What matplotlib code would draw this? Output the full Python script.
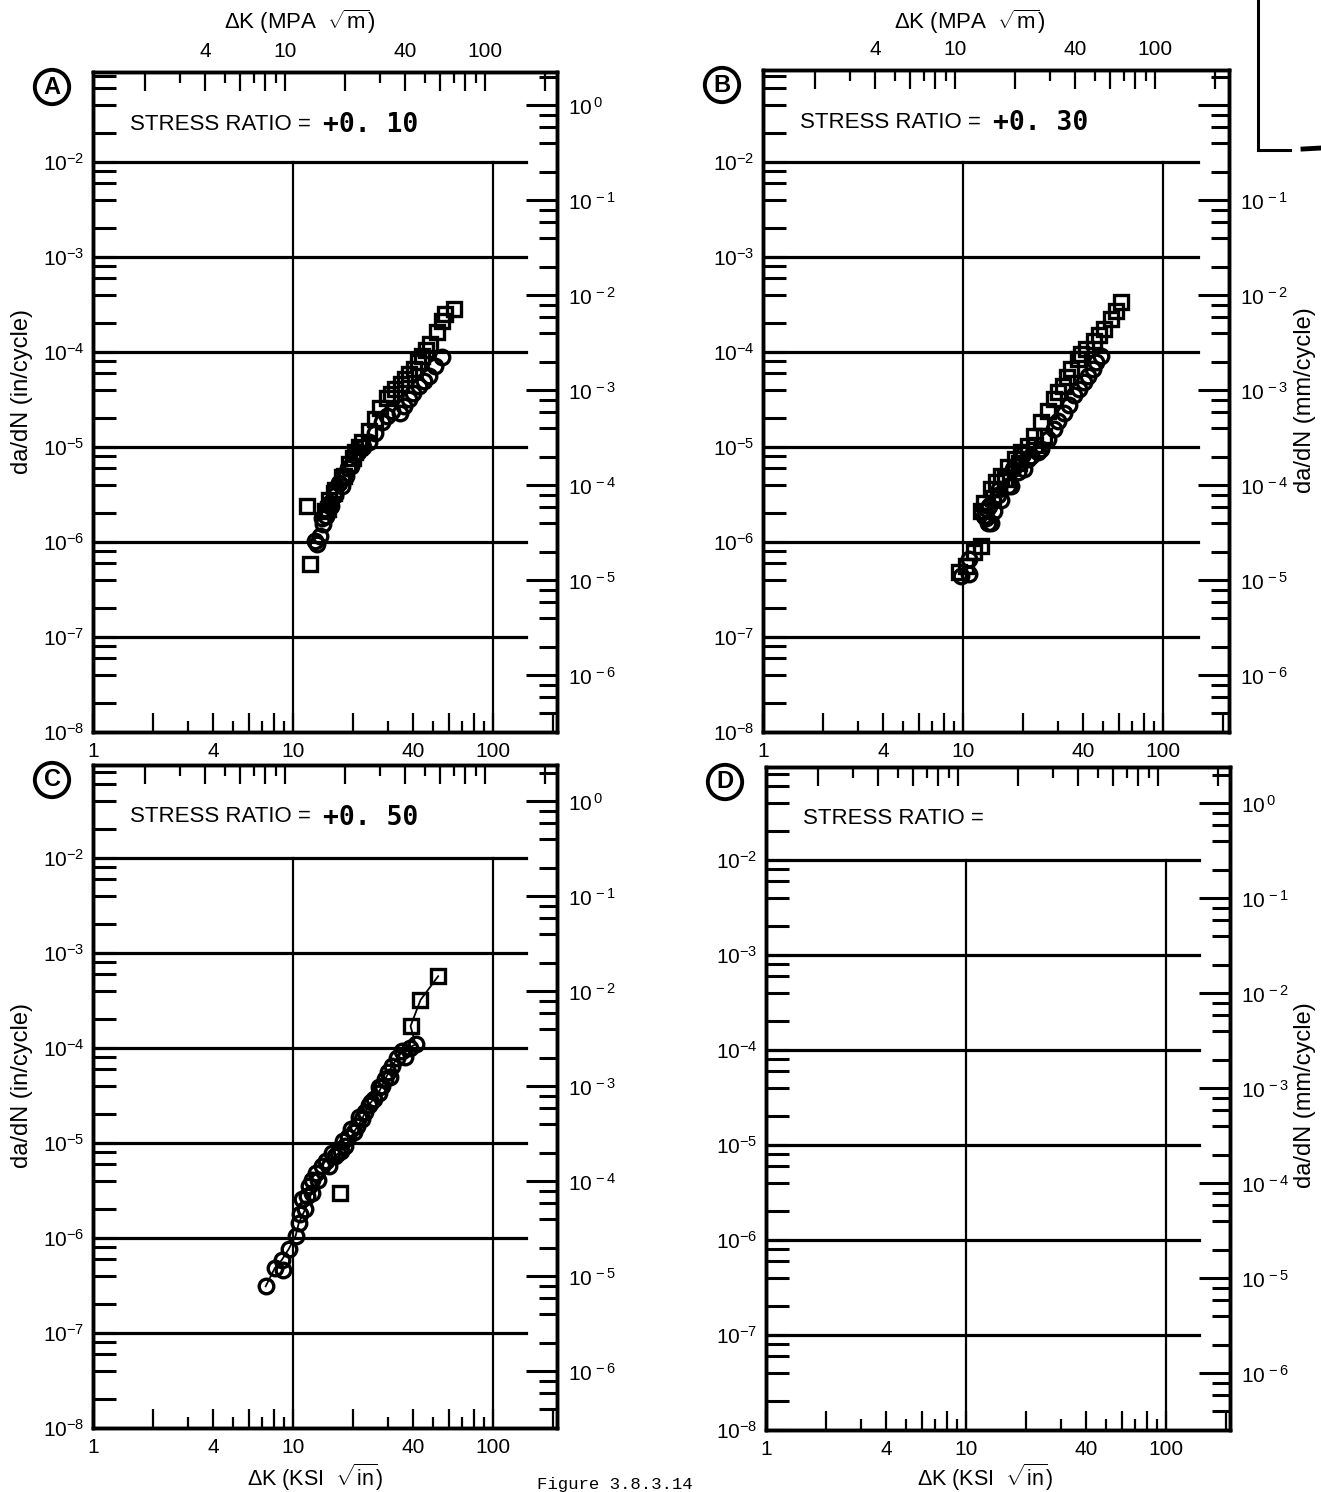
import numpy as np
import matplotlib
matplotlib.use("Agg")
import matplotlib.pyplot as plt
from matplotlib.ticker import FixedLocator, FuncFormatter, NullFormatter
from matplotlib.lines import Line2D

plt.rcParams['font.family'] = ['Liberation Sans', 'DejaVu Sans']
plt.rcParams['mathtext.fontset'] = 'custom'
plt.rcParams['mathtext.rm'] = 'Liberation Sans'
plt.rcParams['mathtext.it'] = 'Liberation Sans:italic'
plt.rcParams['mathtext.bf'] = 'Liberation Sans:bold'

# ---------------- data ----------------
panel_letters = ['A', 'B', 'C', 'D']
stress_ratio_values = ['+0. 10', '+0. 30', '+0. 50', '']

# Panel A (R = +0.10)  dK in ksi*sqrt(in), da/dN in in/cycle
a_sq_dk = [63.8, 57.5, 55.7, 52.6, 48.6, 46.0, 44.3, 42.0, 40.2, 38.0, 36.5, 34.5, 32.5, 31.0,
           29.5, 27.3, 25.8, 23.9, 22.1, 20.5, 19.0, 17.5, 16.3, 15.1, 14.5, 11.7, 12.2,
           21.5, 20.0, 17.9, 16.0, 14.9]
a_sq_da = [2.84e-4, 2.5e-4, 2.14e-4, 1.61e-4, 1.21e-4, 1.05e-4, 9.1e-5, 7.8e-5, 6.6e-5, 5.9e-5,
           5.2e-5, 4.6e-5, 4.1e-5, 3.6e-5, 3.3e-5, 2.6e-5, 1.97e-5, 1.48e-5, 1.12e-5, 8.8e-6,
           6.6e-6, 4.8e-6, 3.5e-6, 2.8e-6, 2.1e-6, 2.4e-6, 5.9e-7,
           1.0e-5, 7.6e-6, 5.0e-6, 3.3e-6, 2.2e-6]
a_ci_dk = [55.7, 51.5, 47.8, 45.0, 42.6, 40.0, 37.9, 36.0, 34.4, 31.3, 29.5, 27.9, 25.8, 23.9,
           22.5, 21.1, 19.5, 18.5, 17.6, 16.3, 15.5, 14.7, 14.2, 13.6, 12.9, 13.2,
           18.8, 17.0, 15.3, 14.0]
a_ci_da = [8.8e-5, 7.2e-5, 5.6e-5, 5.0e-5, 4.4e-5, 3.7e-5, 3.2e-5, 2.7e-5, 2.3e-5, 2.4e-5,
           2.1e-5, 1.82e-5, 1.4e-5, 1.12e-5, 1.0e-5, 8.8e-6, 6.3e-6, 5.0e-6, 3.9e-6, 3.1e-6,
           2.4e-6, 1.9e-6, 1.55e-6, 1.15e-6, 1.03e-6, 0.95e-6,
           6.0e-6, 4.2e-6, 2.6e-6, 1.8e-6]

# Panel B (R = +0.30)
b_sq_dk = [61.7, 58.0, 55.0, 50.9, 48.0, 45.4, 41.2, 39.0, 37.4, 34.7, 33.0, 31.5, 30.0, 28.6,
           26.5, 24.5, 22.7, 21.1, 19.5, 18.1, 16.8, 15.5, 14.6, 13.8, 12.8, 12.3, 12.3, 11.4,
           10.4, 9.6, 25.5, 23.0, 19.0, 16.2, 14.2]
b_sq_da = [3.33e-4, 2.7e-4, 2.22e-4, 1.75e-4, 1.5e-4, 1.32e-4, 1.08e-4, 9.5e-5, 8.4e-5, 6.6e-5,
           5.4e-5, 4.4e-5, 3.8e-5, 3.2e-5, 2.4e-5, 1.82e-5, 1.32e-5, 1.03e-5, 8.8e-6, 7.5e-6,
           6.2e-6, 5.0e-6, 4.3e-6, 3.6e-6, 2.6e-6, 2.1e-6, 9.1e-7, 7.8e-7, 5.6e-7, 4.8e-7,
           1.3e-5, 1.05e-5, 6.8e-6, 4.6e-6, 2.9e-6]
b_ci_dk = [49.0, 46.5, 44.5, 42.0, 40.4, 38.0, 36.0, 34.0, 32.1, 30.0, 28.6, 26.5, 24.5, 23.6,
           22.0, 21.1, 20.3, 18.8, 17.4, 16.7, 15.5, 14.9, 14.3, 13.5, 13.8, 12.8, 13.3, 10.7,
           10.7, 9.8, 20.0, 17.8, 15.2, 13.2, 13.0]
b_ci_da = [9.1e-5, 7.8e-5, 6.6e-5, 5.6e-5, 4.8e-5, 4.1e-5, 3.5e-5, 2.8e-5, 2.3e-5, 1.9e-5,
           1.55e-5, 1.2e-5, 9.5e-6, 8.8e-6, 8.0e-6, 7.5e-6, 5.9e-6, 5.4e-6, 3.9e-6, 3.9e-6,
           2.8e-6, 3.1e-6, 2.1e-6, 2.4e-6, 1.6e-6, 1.9e-6, 1.6e-6, 6.6e-7, 4.6e-7, 4.4e-7,
           8.5e-6, 5.8e-6, 3.6e-6, 2.2e-6, 1.8e-6]

# Panel C (R = +0.50)
c_sq_dk = [53.2, 43.4, 38.7, 17.2]
c_sq_da = [5.7e-4, 3.2e-4, 1.7e-4, 3.0e-6]
c_ci_dk = [41.0, 38.5, 35.1, 33.0, 31.3, 30.0, 28.9, 27.8, 26.8, 25.3, 23.9, 23.0, 22.1, 21.0,
           20.1, 18.9, 18.3, 17.3, 16.8, 16.3, 15.6, 15.1, 13.9, 13.4, 12.4, 12.4, 11.1, 11.5,
           10.7, 10.3, 9.5, 8.8, 8.95, 8.1, 7.3,
           36.5, 30.5, 27.0, 24.5, 21.5, 19.5, 17.8, 14.6, 13.0, 12.0, 11.8, 10.9]
c_ci_da = [1.09e-4, 1.0e-4, 9.3e-5, 7.8e-5, 6.5e-5, 5.6e-5, 4.7e-5, 4.0e-5, 3.4e-5, 2.9e-5,
           2.5e-5, 2.1e-5, 1.78e-5, 1.5e-5, 1.29e-5, 1.17e-5, 9.3e-6, 8.3e-6, 7.9e-6, 7.3e-6,
           7.9e-6, 5.7e-6, 5.7e-6, 4.1e-6, 4.1e-6, 3.0e-6, 2.6e-6, 2.0e-6, 1.45e-6, 1.05e-6,
           7.6e-7, 5.9e-7, 4.6e-7, 4.8e-7, 3.1e-7,
           8.0e-5, 5.0e-5, 3.9e-5, 2.7e-5, 1.9e-5, 1.4e-5, 1.05e-5, 6.5e-6, 4.8e-6, 3.5e-6,
           2.8e-6, 1.8e-6]
c_line_dk = [53.2, 43.4, 38.7, 41.0, 35.1, 31.3, 28.9, 26.8, 23.9, 22.1, 20.1, 18.3, 16.3,
             15.1, 13.4, 12.4, 11.5, 10.7, 10.3, 9.5, 8.8, 8.1, 7.3]
c_line_da = [5.7e-4, 3.2e-4, 1.7e-4, 1.09e-4, 9.3e-5, 6.5e-5, 4.7e-5, 3.4e-5, 2.5e-5, 1.78e-5,
             1.29e-5, 9.3e-6, 7.3e-6, 5.7e-6, 4.1e-6, 3.0e-6, 2.0e-6, 1.45e-6, 1.05e-6,
             7.6e-7, 5.9e-7, 4.8e-7, 3.1e-7]

panel_squares = [(a_sq_dk, a_sq_da), (b_sq_dk, b_sq_da), (c_sq_dk, c_sq_da), ([], [])]
panel_circles = [(a_ci_dk, a_ci_da), (b_ci_dk, b_ci_da), (c_ci_dk, c_ci_da), ([], [])]

# tick values
ksi_long = [1, 2, 4, 6, 8, 10, 20, 40, 60, 80, 100, 200]
ksi_short = [3, 5, 7, 9, 30, 50, 70, 90]
ksi_labels = [1, 4, 10, 40, 100]
mpa_long = [2, 4, 6, 8, 10, 20, 40, 60, 80, 100, 200]
mpa_short = [3, 5, 7, 9, 30, 50, 70, 90]
mpa_labels = [4, 10, 40, 100]
in_decades = [1e-8, 1e-7, 1e-6, 1e-5, 1e-4, 1e-3, 1e-2, 1e-1]
in_minor = [m * d for d in in_decades for m in (2, 4, 6, 8)]
mm_decades = [1e-7, 1e-6, 1e-5, 1e-4, 1e-3, 1e-2, 1e-1, 1e0, 1e1]
mm_minor = [m * d for d in mm_decades for m in (2, 4, 6, 8)]
grid_h = [1e-2, 1e-3, 1e-4, 1e-5, 1e-6, 1e-7]
grid_v = [10, 100]

KSI2MPA = 1.0988
IN2MM = 25.4

# ---------------- figure ----------------
W, H = 1321, 1492
fig = plt.figure(figsize=(W / 100, H / 100), dpi=100)
fig.patch.set_facecolor('white')

PX = 0.72  # points per pixel at 100 dpi
XDEC = 200.0
YDEC = 95.0

# left, right, top, bottom (pixels)
boxes = [(93, 557, 72, 732), (763, 1229, 70, 732), (93, 557, 765, 1428), (766, 1230, 767, 1430)]


def fx(x):
    return x / W


def fy(y):
    return 1 - y / H


def sup_fmt(v, p):
    e = int(round(np.log10(v)))
    return r'$10^{%d}$' % e


axes = []
for i, (l, r, t, b) in enumerate(boxes):
    ax = fig.add_axes([fx(l), fy(b), (r - l) / W, (b - t) / H])
    ax.set_xscale('log')
    ax.set_yscale('log')
    xmax = 10 ** ((r - l) / XDEC)
    ymax = 10 ** (-8 + (b - t) / YDEC)
    ax.set_xlim(1, xmax)
    ax.set_ylim(1e-8, ymax)
    for s in ax.spines.values():
        s.set_linewidth(2.4)

    # bottom axis (ksi)
    ax.xaxis.set_major_locator(FixedLocator(ksi_long))
    ax.xaxis.set_minor_locator(FixedLocator(ksi_short))
    ax.xaxis.set_major_formatter(FuncFormatter(
        lambda v, p: ('%d' % round(v)) if round(v) in ksi_labels else ''))
    ax.xaxis.set_minor_formatter(NullFormatter())
    ax.tick_params(axis='x', which='major', direction='in', length=19 * PX, width=1.6,
                   labelsize=15, pad=7, top=False)
    ax.tick_params(axis='x', which='minor', direction='in', length=11 * PX, width=1.6, top=False)

    # left axis (in/cycle)
    ax.yaxis.set_major_locator(FixedLocator(in_decades))
    ax.yaxis.set_minor_locator(FixedLocator(in_minor))
    ax.yaxis.set_major_formatter(FuncFormatter(
        lambda v, p: sup_fmt(v, p) if v <= 1.5e-2 else ''))
    ax.yaxis.set_minor_formatter(NullFormatter())
    ax.tick_params(axis='y', which='major', direction='in', length=23 * PX, width=2.2,
                   labelsize=15, pad=6, right=False)
    ax.tick_params(axis='y', which='minor', direction='in', length=23 * PX, width=2.2, right=False)

    # grid lines
    gx = 1 - 31.0 / (r - l)
    for g in grid_h:
        ax.axhline(g, xmin=0, xmax=gx, color='black', lw=2.3, zorder=1)
    yf = (np.log10(1e-2) - (-8)) / (np.log10(ymax) - (-8))
    for g in grid_v:
        ax.axvline(g, ymin=0, ymax=yf, color='black', lw=1.6, zorder=1)

    # top axis (MPa sqrt m)
    axt = ax.twiny()
    axt.set_xscale('log')
    axt.set_xlim(1 * KSI2MPA, xmax * KSI2MPA)
    axt.xaxis.set_major_locator(FixedLocator(mpa_long))
    axt.xaxis.set_minor_locator(FixedLocator(mpa_short))
    show_top = i < 2
    axt.xaxis.set_major_formatter(FuncFormatter(
        lambda v, p, s=show_top: ('%d' % round(v)) if (s and round(v) in mpa_labels) else ''))
    axt.xaxis.set_minor_formatter(NullFormatter())
    axt.tick_params(axis='x', which='major', direction='in', length=19 * PX, width=1.6,
                    labelsize=15, pad=8)
    axt.tick_params(axis='x', which='minor', direction='in', length=11 * PX, width=1.6)
    axt.yaxis.set_visible(False)
    for s in axt.spines.values():
        s.set_linewidth(2.4)

    # right axis (mm/cycle)
    axr = ax.twinx()
    axr.set_yscale('log')
    axr.set_ylim(1e-8 * IN2MM, ymax * IN2MM)
    axr.yaxis.set_major_locator(FixedLocator(mm_decades))
    axr.yaxis.set_minor_locator(FixedLocator(mm_minor))
    skip_top = (i == 1)
    axr.yaxis.set_major_formatter(FuncFormatter(
        lambda v, p, s=skip_top: '' if (s and v > 0.5) else r'$10^{\,%d}$' % int(round(np.log10(v)))))
    axr.yaxis.set_minor_formatter(NullFormatter())
    axr.tick_params(axis='y', which='major', direction='in', length=31 * PX, width=2.2,
                    labelsize=15, pad=8)
    axr.tick_params(axis='y', which='minor', direction='in', length=18 * PX, width=2.2)
    axr.xaxis.set_visible(False)
    for s in axr.spines.values():
        s.set_linewidth(2.4)

    # data
    sqx, sqy = panel_squares[i]
    cix, ciy = panel_circles[i]
    if i == 2:
        ax.plot(c_line_dk, c_line_da, color='black', lw=1.3, zorder=2)
    if len(cix):
        ax.plot(cix, ciy, linestyle='none', marker='o', markersize=10.5, mfc='none',
                mec='black', mew=2.4, zorder=3)
    if len(sqx):
        ax.plot(sqx, sqy, linestyle='none', marker='s', markersize=10, mfc='none',
                mec='black', mew=2.4, zorder=3)
    axes.append(ax)

# texts: circled letters (41 px left of each left spine)
letter_pos = [(b[0] - 41, b[2] + 15) for b in boxes]
for (x, y), L in zip(letter_pos, panel_letters):
    fig.text(fx(x), fy(y), L, fontsize=17, fontweight='bold', ha='center', va='center',
             bbox=dict(boxstyle='circle,pad=0.24', fc='white', ec='black', lw=2.8))

# stress ratio texts
for (l, r, t, b), v in zip(boxes, stress_ratio_values):
    y = t + 52
    fig.text(fx(l + 37), fy(y), 'STRESS RATIO =', fontsize=16, ha='left', va='center')
    if v:
        fig.text(fx(l + 230), fy(y + 1), v, fontsize=19, fontweight='bold',
                 family='DejaVu Sans Mono', ha='left', va='center')

# axis titles
top_lbl = r'$\Delta$K (MPA  $\sqrt{\mathrm{m}}$)'
bot_lbl = r'$\Delta$K (KSI  $\sqrt{\mathrm{in}}$)'
for x in (300, 970):
    fig.text(fx(x), fy(22), top_lbl, fontsize=16, ha='center', va='center')
for x in (315, 985):
    fig.text(fx(x), fy(1477), bot_lbl, fontsize=15.5, ha='center', va='center')
for y in (392, 1085):
    fig.text(fx(22), fy(y), 'da/dN (in/cycle)', fontsize=17, rotation=90, ha='center', va='center')
for y in (400, 1095):
    fig.text(fx(1305), fy(y), 'da/dN (mm/cycle)', fontsize=17, rotation=90, ha='center', va='center')

# caption at page bottom
fig.text(fx(615), fy(1489), 'Figure 3.8.3.14', fontsize=12.5, family='Liberation Mono',
         ha='center', va='baseline')

# stray frame from an adjacent figure (upper right)
for (x0, y0, x1, y1, lw) in [(1258, 0, 1258, 150, 2.2), (1258, 150, 1290, 150, 2.2),
                             (1303, 149, 1321, 148, 3.5)]:
    fig.add_artist(Line2D([fx(x0), fx(x1)], [fy(y0), fy(y1)], transform=fig.transFigure,
                          color='black', lw=lw))

fig.savefig('out.png', dpi=100, facecolor='white')
